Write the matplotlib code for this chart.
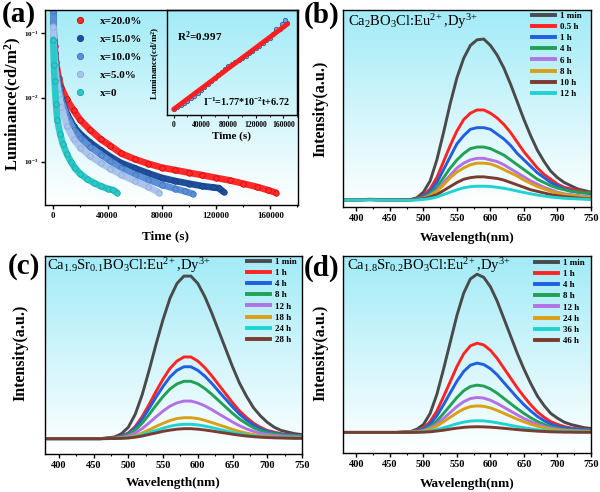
import numpy as np
import matplotlib
matplotlib.use("Agg")
import matplotlib.pyplot as plt
from matplotlib.colors import LinearSegmentedColormap
from matplotlib.lines import Line2D
from matplotlib.ticker import FixedLocator, FixedFormatter, MultipleLocator, NullLocator


# =========================
# Fonts
# =========================

plt.rcParams["font.family"] = ["Liberation Serif", "DejaVu Serif"]
plt.rcParams["font.weight"] = "bold"
plt.rcParams["mathtext.default"] = "regular"
plt.rcParams["axes.linewidth"] = 1.0


# =========================
# (a) afterglow decay data, time (s) vs luminance (cd/m2)
# =========================

decay_labels = ["x=20.0%", "x=15.0%", "x=10.0%", "x=5.0%", "x=0"]
decay_colors = ["#ff2b2b", "#1f4f9c", "#5b8fd6", "#aac4ec", "#2bc9c9"]
decay_edges = ["#cc0000", "#143c7c", "#3f70b8", "#88a7d8", "#16a2a2"]

t_20 = [0, 500, 1000, 2000, 4000, 6000, 10000, 15000, 20000, 27000, 35000, 42000,
        50000, 60000, 70000, 80000, 90000, 100000, 110000, 120000, 130000, 140000,
        150000, 158000, 164000]
L_20 = [0.200, 0.0794, 0.0631, 0.0355, 0.0200, 0.0141, 0.00933, 0.00631, 0.00447,
        0.00316, 0.00224, 0.00178, 0.00135, 0.00110, 0.000933, 0.000813, 0.000741,
        0.000676, 0.000617, 0.000562, 0.000513, 0.000457, 0.000407, 0.000363, 0.000331]

t_15 = [0, 500, 1000, 2000, 4000, 6000, 10000, 15000, 20000, 27000, 35000, 42000,
        50000, 60000, 70000, 80000, 90000, 100000, 110000, 118000, 122000, 125500]
L_15 = [0.224, 0.0708, 0.0501, 0.0282, 0.0158, 0.0100, 0.00562, 0.00355, 0.00269,
        0.00200, 0.00151, 0.00120, 0.000955, 0.000794, 0.000661, 0.000562, 0.000501,
        0.000457, 0.000417, 0.000398, 0.000389, 0.000339]

t_10 = [0, 500, 1000, 2000, 4000, 6000, 10000, 15000, 20000, 27000, 35000, 42000,
        50000, 60000, 70000, 80000, 90000, 97000, 103000]
L_10 = [0.224, 0.0631, 0.0447, 0.0251, 0.0141, 0.00891, 0.00501, 0.00316, 0.00234,
        0.00170, 0.00129, 0.00102, 0.000794, 0.000631, 0.000525, 0.000437, 0.000380,
        0.000347, 0.000316]

t_5 = [0, 500, 1000, 2000, 4000, 6000, 10000, 15000, 20000, 27000, 35000, 42000,
       50000, 60000, 70000, 78000]
L_5 = [0.126, 0.0501, 0.0355, 0.0200, 0.0112, 0.00708, 0.00355, 0.00224, 0.00166,
       0.00123, 0.000955, 0.000776, 0.000631, 0.000501, 0.000407, 0.000331]

t_0 = [0, 500, 1000, 2000, 3000, 5000, 7000, 10000, 13000, 16000, 20000, 25000,
       30000, 35000, 40000, 44000, 47000]
L_0 = [0.0794, 0.0316, 0.0178, 0.00794, 0.00447, 0.00275, 0.00191, 0.00132, 0.00100,
       0.000794, 0.000646, 0.000537, 0.000468, 0.000417, 0.000380, 0.000363, 0.000331]

decay_t = [t_20, t_15, t_10, t_5, t_0]
decay_L = [L_20, L_15, L_10, L_5, L_0]

# inset: reciprocal intensity vs time, with linear fit
inset_t = [0, 5000, 10000, 15000, 20000, 25000, 30000, 35000, 40000, 45000, 50000,
           55000, 60000, 65000, 70000, 75000, 80000, 85000, 90000, 95000, 100000,
           105000, 110000, 115000, 120000, 125000, 130000, 135000, 140000, 145000,
           150000, 155000, 160000, 165000, 150000, 158000, 163000]
inset_inv = [30, 70, 140, 220, 300, 390, 480, 570, 670, 770, 870, 975, 1080, 1190,
             1300, 1400, 1490, 1560, 1630, 1700, 1770, 1850, 1935, 2020, 2110, 2200,
             2290, 2380, 2480, 2600, 2700, 2790, 2880, 2980, 2780, 2960, 3080]
fit_t = [0, 166000]
fit_inv = [6.72, 2945]


# =========================
# (b)-(d) emission spectra, wavelength (nm) vs normalised intensity
# =========================

wl = [380, 420, 460, 480, 490, 500, 510, 520, 530, 540, 550, 560, 570, 580, 590,
      600, 610, 620, 630, 640, 650, 660, 670, 680, 690, 700, 710, 720, 730, 740, 750]

spec_colors = {
    "gray": "#4a4a4a", "red": "#ff2424", "blue": "#1f5fe0", "green": "#22a055",
    "violet": "#b272e6", "orange": "#d8a012", "brown": "#7a3b30", "cyan": "#1fd3d3",
}

b_labels = ["1 min", "0.5 h", "1 h", "4 h", "6 h", "8 h", "10 h", "12 h"]
b_colors = ["gray", "red", "blue", "green", "violet", "orange", "brown", "cyan"]
b_1min = [0, 0.005, 0, 0.003, 0.015, 0.05, 0.12, 0.25, 0.42, 0.60, 0.76, 0.88, 0.96,
          0.995, 1.0, 0.96, 0.90, 0.82, 0.72, 0.61, 0.50, 0.40, 0.31, 0.24, 0.18, 0.14,
          0.11, 0.09, 0.07, 0.06, 0.05]
b_05h = [0, 0.004, 0, 0.002, 0.01, 0.03, 0.07, 0.14, 0.24, 0.34, 0.43, 0.50, 0.54, 0.56,
         0.56, 0.54, 0.51, 0.47, 0.42, 0.36, 0.30, 0.25, 0.20, 0.16, 0.13, 0.10, 0.08,
         0.07, 0.06, 0.05, 0.045]
b_1h = [0, 0.004, 0, 0.002, 0.008, 0.025, 0.055, 0.11, 0.19, 0.27, 0.35, 0.40, 0.44,
        0.45, 0.45, 0.44, 0.41, 0.38, 0.34, 0.29, 0.25, 0.21, 0.17, 0.14, 0.11, 0.09,
        0.07, 0.06, 0.05, 0.045, 0.04]
b_4h = [0, 0.004, 0, 0.002, 0.006, 0.018, 0.04, 0.08, 0.14, 0.20, 0.25, 0.29, 0.32,
        0.33, 0.33, 0.32, 0.30, 0.28, 0.25, 0.22, 0.19, 0.16, 0.13, 0.11, 0.09, 0.075,
        0.065, 0.055, 0.05, 0.045, 0.045]
b_6h = [0, 0.004, 0, 0.002, 0.005, 0.014, 0.03, 0.06, 0.11, 0.155, 0.20, 0.23, 0.25,
        0.26, 0.26, 0.25, 0.24, 0.22, 0.195, 0.17, 0.145, 0.12, 0.10, 0.08, 0.065, 0.05,
        0.04, 0.035, 0.03, 0.025, 0.02]
b_8h = [0, 0.004, 0, 0.002, 0.004, 0.012, 0.027, 0.055, 0.095, 0.14, 0.175, 0.20, 0.22,
        0.23, 0.23, 0.225, 0.21, 0.19, 0.17, 0.15, 0.125, 0.105, 0.085, 0.07, 0.055,
        0.045, 0.035, 0.03, 0.025, 0.02, 0.02]
b_10h = [0, 0.006, 0.002, 0.003, 0.005, 0.01, 0.02, 0.035, 0.06, 0.085, 0.11, 0.13,
         0.14, 0.145, 0.145, 0.14, 0.135, 0.125, 0.11, 0.095, 0.08, 0.065, 0.055, 0.045,
         0.035, 0.028, 0.022, 0.018, 0.014, 0.01, 0.008]
b_12h = [0, 0.003, 0, 0, 0.002, 0.005, 0.01, 0.02, 0.035, 0.05, 0.065, 0.077, 0.084,
         0.087, 0.087, 0.085, 0.08, 0.074, 0.066, 0.057, 0.048, 0.04, 0.032, 0.026, 0.02,
         0.016, 0.012, 0.01, 0.008, 0.006, 0.005]
b_series = [b_1min, b_05h, b_1h, b_4h, b_6h, b_8h, b_10h, b_12h]

c_labels = ["1 min", "1 h", "4 h", "8 h", "12 h", "18 h", "24 h", "28 h"]
c_colors = ["gray", "red", "blue", "green", "violet", "orange", "cyan", "brown"]
c_1min = [0, 0, 0, 0.01, 0.03, 0.07, 0.15, 0.27, 0.42, 0.58, 0.73, 0.86, 0.95, 0.995,
          0.995, 0.95, 0.87, 0.77, 0.66, 0.55, 0.44, 0.34, 0.26, 0.19, 0.14, 0.10, 0.07,
          0.05, 0.04, 0.03, 0.025]
c_1h = [0, 0, 0, 0.005, 0.015, 0.035, 0.075, 0.135, 0.21, 0.29, 0.365, 0.43, 0.475, 0.5,
        0.5, 0.475, 0.435, 0.385, 0.33, 0.275, 0.22, 0.17, 0.13, 0.095, 0.07, 0.05, 0.04,
        0.03, 0.025, 0.02, 0.02]
c_4h = [0, 0, 0, 0.004, 0.013, 0.031, 0.066, 0.119, 0.185, 0.255, 0.32, 0.378, 0.418,
        0.44, 0.44, 0.418, 0.383, 0.339, 0.29, 0.242, 0.194, 0.15, 0.114, 0.084, 0.062,
        0.045, 0.035, 0.028, 0.023, 0.02, 0.018]
c_8h = [0, 0, 0, 0.004, 0.011, 0.025, 0.053, 0.095, 0.148, 0.205, 0.258, 0.304, 0.335,
        0.351, 0.351, 0.335, 0.307, 0.272, 0.233, 0.194, 0.155, 0.12, 0.092, 0.067, 0.05,
        0.037, 0.03, 0.024, 0.02, 0.018, 0.016]
c_12h = [0, 0, 0, 0.002, 0.007, 0.016, 0.035, 0.062, 0.097, 0.134, 0.169, 0.199, 0.219,
         0.23, 0.23, 0.219, 0.201, 0.178, 0.152, 0.127, 0.102, 0.079, 0.06, 0.045, 0.034,
         0.026, 0.02, 0.016, 0.013, 0.011, 0.01]
c_18h = [0, 0, 0, 0.001, 0.004, 0.009, 0.019, 0.035, 0.054, 0.075, 0.094, 0.111, 0.123,
         0.128, 0.128, 0.123, 0.112, 0.099, 0.085, 0.071, 0.057, 0.044, 0.034, 0.025,
         0.019, 0.014, 0.011, 0.009, 0.007, 0.006, 0.005]
c_24h = [0, 0, 0, 0.001, 0.003, 0.006, 0.013, 0.024, 0.037, 0.051, 0.064, 0.076, 0.084,
         0.088, 0.088, 0.084, 0.077, 0.068, 0.058, 0.048, 0.039, 0.03, 0.023, 0.017,
         0.013, 0.01, 0.008, 0.006, 0.005, 0.004, 0.004]
c_28h = [0, 0, 0, 0.001, 0.002, 0.004, 0.009, 0.016, 0.026, 0.035, 0.045, 0.052, 0.058,
         0.061, 0.061, 0.058, 0.053, 0.047, 0.04, 0.034, 0.027, 0.021, 0.016, 0.012,
         0.009, 0.007, 0.005, 0.004, 0.003, 0.002, 0.002]
c_series = [c_1min, c_1h, c_4h, c_8h, c_12h, c_18h, c_24h, c_28h]

d_labels = ["1 min", "1 h", "4 h", "8 h", "12 h", "24 h", "36 h", "46 h"]
d_colors = ["gray", "red", "blue", "green", "violet", "orange", "cyan", "brown"]
d_1min = [0, 0, 0, 0.005, 0.02, 0.05, 0.12, 0.24, 0.40, 0.57, 0.74, 0.88, 0.97, 1.0,
          0.98, 0.92, 0.83, 0.72, 0.61, 0.50, 0.40, 0.31, 0.23, 0.17, 0.12, 0.09, 0.065,
          0.05, 0.04, 0.03, 0.025]
d_1h = [0, 0, 0, 0.003, 0.011, 0.028, 0.068, 0.135, 0.226, 0.321, 0.417, 0.496, 0.547,
        0.564, 0.553, 0.519, 0.468, 0.406, 0.344, 0.282, 0.226, 0.175, 0.13, 0.096, 0.068,
        0.051, 0.037, 0.028, 0.023, 0.02, 0.018]
d_4h = [0, 0, 0, 0.002, 0.009, 0.022, 0.053, 0.105, 0.175, 0.25, 0.324, 0.385, 0.425,
        0.438, 0.429, 0.403, 0.364, 0.315, 0.267, 0.219, 0.175, 0.136, 0.101, 0.074,
        0.053, 0.039, 0.03, 0.024, 0.02, 0.017, 0.015]
d_8h = [0, 0, 0, 0.002, 0.006, 0.015, 0.036, 0.072, 0.12, 0.17, 0.221, 0.263, 0.29,
        0.299, 0.293, 0.275, 0.248, 0.215, 0.182, 0.15, 0.12, 0.093, 0.069, 0.051, 0.036,
        0.027, 0.02, 0.016, 0.013, 0.011, 0.01]
d_12h = [0, 0, 0, 0.001, 0.004, 0.011, 0.027, 0.053, 0.088, 0.126, 0.164, 0.194, 0.214,
         0.221, 0.217, 0.203, 0.183, 0.159, 0.135, 0.111, 0.088, 0.069, 0.051, 0.038,
         0.027, 0.02, 0.015, 0.012, 0.01, 0.008, 0.007]
d_24h = [0, 0, 0, 0.001, 0.003, 0.008, 0.02, 0.04, 0.067, 0.096, 0.124, 0.148, 0.163,
         0.168, 0.165, 0.155, 0.139, 0.121, 0.102, 0.084, 0.067, 0.052, 0.039, 0.029,
         0.02, 0.015, 0.011, 0.009, 0.007, 0.006, 0.005]
d_36h = [0, 0, 0, 0, 0.001, 0.004, 0.009, 0.018, 0.03, 0.042, 0.055, 0.065, 0.072, 0.074,
         0.073, 0.068, 0.061, 0.053, 0.045, 0.037, 0.03, 0.023, 0.017, 0.013, 0.009,
         0.007, 0.005, 0.004, 0.003, 0.002, 0.002]
d_46h = [0, 0, 0, 0, 0.001, 0.002, 0.004, 0.009, 0.014, 0.021, 0.027, 0.032, 0.035,
         0.036, 0.035, 0.033, 0.03, 0.026, 0.022, 0.018, 0.014, 0.011, 0.008, 0.006,
         0.004, 0.003, 0.002, 0.002, 0.001, 0.001, 0.001]
d_series = [d_1min, d_1h, d_4h, d_8h, d_12h, d_24h, d_36h, d_46h]


# =========================
# Layout helpers (pixel boxes -> figure fractions)
# =========================

FW, FH = 600, 492


def px_rect(l, t, r, b):
    return [l / FW, 1 - b / FH, (r - l) / FW, (b - t) / FH]


def fx(x):
    return x / FW


def fy(y):
    return 1 - y / FH


BG_CMAP = LinearSegmentedColormap.from_list("bg", ["#ffffff", "#a2ebf7"])


def add_panel(fig, box):
    """Gradient background axes with a transparent data axes on top."""
    bg = fig.add_axes(px_rect(*box), zorder=0)
    grad = np.linspace(0, 1, 256).reshape(-1, 1)
    bg.imshow(grad, cmap=BG_CMAP, origin="lower", aspect="auto",
              extent=[0, 1, 0, 1], interpolation="bicubic")
    bg.axis("off")
    ax = fig.add_axes(px_rect(*box), zorder=1)
    ax.patch.set_alpha(0)
    return ax


def spectra_panel(fig, box, series, labels, colors, ylim, title, title_xy,
                  leg_xy, tag, tag_xy, ylab_xy, xlab_xy):
    ax = add_panel(fig, box)
    for ys, c in zip(series, colors):
        ax.plot(wl, ys, color=spec_colors[c], lw=2.1, solid_capstyle="round")
    ax.set_xlim(380, 750)
    ax.set_ylim(*ylim)
    ax.xaxis.set_major_locator(MultipleLocator(50))
    ax.xaxis.set_minor_locator(MultipleLocator(25))
    ax.yaxis.set_major_locator(NullLocator())
    ax.tick_params(axis="x", which="major", direction="out", length=3, width=1,
                   labelsize=7.5, pad=2)
    ax.tick_params(axis="x", which="minor", direction="out", length=1.5, width=0.8)

    handles = [Line2D([], [], color=spec_colors[c], lw=2.8) for c in colors]
    ax.legend(handles, labels, loc="upper left",
              bbox_to_anchor=(fx(leg_xy[0]), fy(leg_xy[1])),
              bbox_transform=fig.transFigure, frameon=False, fontsize=6.5,
              handlelength=2.6, handletextpad=0.5, labelspacing=0.32,
              borderpad=0, borderaxespad=0)

    fig.text(fx(title_xy[0]), fy(title_xy[1]), title, fontsize=10.5,
             fontweight="normal", ha="left", va="center")
    fig.text(fx(tag_xy[0]), fy(tag_xy[1]), tag, fontsize=21, ha="left", va="center")
    fig.text(fx(ylab_xy[0]), fy(ylab_xy[1]), "Intensity(a.u.)", fontsize=11.5,
             rotation=90, ha="center", va="center")
    fig.text(fx(xlab_xy[0]), fy(xlab_xy[1]), "Wavelength(nm)", fontsize=9.5,
             ha="center", va="center")
    return ax


# =========================
# Figure
# =========================

fig = plt.figure(figsize=(6, 4.92), dpi=100)

# ---- (a) decay curves ----
ax_a = add_panel(fig, (45, 10, 298, 205))
for t, L, c, e in zip(decay_t, decay_L, decay_colors, decay_edges):
    ax_a.plot(t, L, color=c, lw=4.8, marker="o", ms=4.0, mfc=c, mec=e, mew=0.5,
              solid_capstyle="round")
ax_a.set_yscale("log")
ax_a.set_xlim(-6100, 180400)
ax_a.set_ylim(2.12e-4, 0.231)
ax_a.yaxis.set_major_locator(FixedLocator([1e-3, 1e-2, 1e-1]))
ax_a.yaxis.set_major_formatter(FixedFormatter(["10$^{-3}$", "10$^{-2}$", "10$^{-1}$"]))
ax_a.yaxis.set_minor_locator(NullLocator())
ax_a.xaxis.set_major_locator(MultipleLocator(40000))
ax_a.xaxis.set_minor_locator(MultipleLocator(20000))
ax_a.tick_params(axis="x", which="major", direction="out", length=3, width=1,
                 labelsize=6.5, pad=2)
ax_a.tick_params(axis="y", which="major", direction="out", length=3, width=1,
                 labelsize=5.2, pad=1.5)
ax_a.tick_params(axis="x", which="minor", direction="out", length=1.5, width=0.8)

leg_handles = [Line2D([], [], ls="none", marker="o", ms=4.5, mfc=c, mec=e, mew=0.6)
               for c, e in zip(decay_colors, decay_edges)]
ax_a.legend(leg_handles, decay_labels, loc="upper left",
            bbox_to_anchor=(fx(74), fy(16)), bbox_transform=fig.transFigure,
            frameon=False, fontsize=8, handlelength=1.0, handletextpad=1.3,
            labelspacing=0.75, borderpad=0, borderaxespad=0)

fig.text(fx(2), fy(15), "(a)", fontsize=21, ha="left", va="center")
fig.text(fx(13), fy(104), "Luminance(cd/m$^2$)", fontsize=12, rotation=90,
         ha="center", va="center")
fig.text(fx(166), fy(236), "Time (s)", fontsize=9.5, ha="center", va="center")

# ---- (a) inset ----
ax_in = fig.add_axes(px_rect(167, 10, 297, 115), zorder=2)
ax_in.patch.set_alpha(0)
ax_in.plot(inset_t, inset_inv, ls="none", marker="o", ms=3.2, mfc="#7aa6e0",
           mec="#1f4f9c", mew=0.5)
ax_in.plot(fit_t, fit_inv, color="#ff1e1e", lw=3.5, solid_capstyle="round")
ax_in.set_xlim(-9700, 180000)
ax_in.set_ylim(-190, 3430)
ax_in.xaxis.set_major_locator(MultipleLocator(40000))
ax_in.xaxis.set_minor_locator(MultipleLocator(20000))
ax_in.yaxis.set_major_locator(NullLocator())
ax_in.tick_params(axis="x", which="major", direction="out", length=2.5, width=0.8,
                  labelsize=5.5, pad=1.5)
ax_in.tick_params(axis="x", which="minor", direction="out", length=1.2, width=0.6)
fig.text(fx(177), fy(37), "R$^2$=0.997", fontsize=8, ha="left", va="center")
fig.text(fx(203), fy(102), "I$^{-1}$=1.77*10$^{-2}$t+6.72", fontsize=7.3,
         ha="left", va="center")
fig.text(fx(156), fy(63), "Luminance(cd/m$^2$)", fontsize=6.5, rotation=90,
         ha="center", va="center")
fig.text(fx(232), fy(136), "Time (s)", fontsize=8, ha="center", va="center")

# ---- (b)-(d) spectra ----
spectra_panel(fig, (343, 10, 591, 207), b_series, b_labels, b_colors,
              (-0.042, 1.18), r"Ca$_2$BO$_3$Cl:Eu$^{2\!+}$,Dy$^{3\!+}$", (348, 22),
              (532, 11.5), "(b)", (304, 15), (320, 109), (467, 238))
spectra_panel(fig, (45, 256, 302, 454), c_series, c_labels, c_colors,
              (-0.094, 1.118), r"Ca$_{1.9}$Sr$_{0.1}$BO$_3$Cl:Eu$^{2\!+}$,Dy$^{3\!+}$",
              (47, 266), (247, 257.5), "(c)", (8, 266), (20, 353), (173, 483))
spectra_panel(fig, (343, 256, 591, 453), d_series, d_labels, d_colors,
              (-0.13, 1.115), r"Ca$_{1.8}$Sr$_{0.2}$BO$_3$Cl:Eu$^{2\!+}$,Dy$^{3\!+}$",
              (347, 266), (535, 258.5), "(d)", (304, 268), (320, 353), (467, 484))

fig.savefig("out.png", dpi=100)
